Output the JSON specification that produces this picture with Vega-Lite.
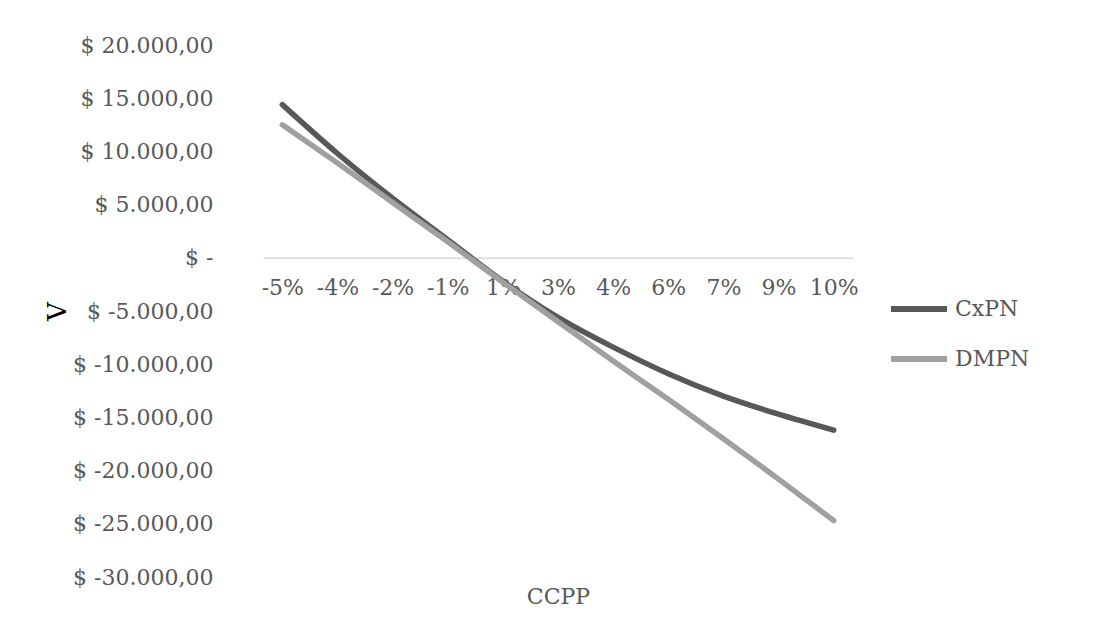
{
  "$schema": "https://vega.github.io/schema/vega-lite/v6.json",
  "width": 590,
  "height": 532,
  "autosize": {"type": "none"},
  "padding": {"left": 263, "top": 45, "right": 245, "bottom": 60},
  "background": "white",
  "config": {
    "font": "DejaVu Serif",
    "view": {"stroke": null}
  },
  "data": {
    "values": [
      {"CCPP": "-5%", "serie": "CxPN", "V": 14400},
      {"CCPP": "-4%", "serie": "CxPN", "V": 9800},
      {"CCPP": "-2%", "serie": "CxPN", "V": 5600},
      {"CCPP": "-1%", "serie": "CxPN", "V": 1700},
      {"CCPP": "1%", "serie": "CxPN", "V": -2200},
      {"CCPP": "3%", "serie": "CxPN", "V": -5600},
      {"CCPP": "4%", "serie": "CxPN", "V": -8400},
      {"CCPP": "6%", "serie": "CxPN", "V": -10900},
      {"CCPP": "7%", "serie": "CxPN", "V": -13000},
      {"CCPP": "9%", "serie": "CxPN", "V": -14700},
      {"CCPP": "10%", "serie": "CxPN", "V": -16200},
      {"CCPP": "-5%", "serie": "DMPN", "V": 12500},
      {"CCPP": "-4%", "serie": "DMPN", "V": 8900},
      {"CCPP": "-2%", "serie": "DMPN", "V": 5200},
      {"CCPP": "-1%", "serie": "DMPN", "V": 1500},
      {"CCPP": "1%", "serie": "DMPN", "V": -2300},
      {"CCPP": "3%", "serie": "DMPN", "V": -6000},
      {"CCPP": "4%", "serie": "DMPN", "V": -9700},
      {"CCPP": "6%", "serie": "DMPN", "V": -13300},
      {"CCPP": "7%", "serie": "DMPN", "V": -17000},
      {"CCPP": "9%", "serie": "DMPN", "V": -20800},
      {"CCPP": "10%", "serie": "DMPN", "V": -24700}
    ]
  },
  "mark": {"type": "line", "interpolate": "monotone", "strokeWidth": 5.5, "strokeCap": "round", "strokeJoin": "round"},
  "encoding": {
    "x": {
      "field": "CCPP",
      "type": "ordinal",
      "sort": ["-5%", "-4%", "-2%", "-1%", "1%", "3%", "4%", "6%", "7%", "9%", "10%"],
      "scale": {"type": "point", "padding": 0.35},
      "axis": {
        "title": "CCPP",
        "titleFontSize": 22,
        "titleFontWeight": "normal",
        "titleColor": "#595959",
        "titleY": 339,
        "titleBaseline": "middle",
        "offset": -319.2,
        "labelAngle": 0,
        "labelFontSize": 22,
        "labelColor": "#595959",
        "labelPadding": 30,
        "labelBaseline": "middle",
        "ticks": false,
        "domainColor": "#d9d9d9",
        "domainWidth": 1.5,
        "grid": false
      }
    },
    "y": {
      "field": "V",
      "type": "quantitative",
      "scale": {"domain": [-30000, 20000], "nice": false},
      "axis": {
        "title": "V",
        "titleFontSize": 26,
        "titleFontWeight": "normal",
        "titleColor": "#000000",
        "titleAngle": -90,
        "titleX": -206,
        "titleY": 266,
        "titleAlign": "center",
        "titleBaseline": "middle",
        "values": [-30000, -25000, -20000, -15000, -10000, -5000, 0, 5000, 10000, 15000, 20000],
        "labelExpr": "datum.value == 0 ? '$ -' : '$ ' + (datum.value < 0 ? '-' : '') + replace(replace(replace(format(abs(datum.value), ',.2f'), ',', '#'), '.', ','), '#', '.')",
        "labelFontSize": 22,
        "labelColor": "#595959",
        "labelPadding": 50,
        "domain": false,
        "ticks": false,
        "grid": false
      }
    },
    "color": {
      "field": "serie",
      "type": "nominal",
      "scale": {"domain": ["CxPN", "DMPN"], "range": ["#58585a", "#a0a0a0"]},
      "legend": {
        "title": null,
        "orient": "none",
        "legendX": 625,
        "legendY": 233,
        "symbolType": "stroke",
        "symbolSize": 3136,
        "symbolStrokeWidth": 6,
        "labelFontSize": 22,
        "labelColor": "#595959",
        "labelOffset": 5,
        "rowPadding": 7
      }
    }
  }
}
